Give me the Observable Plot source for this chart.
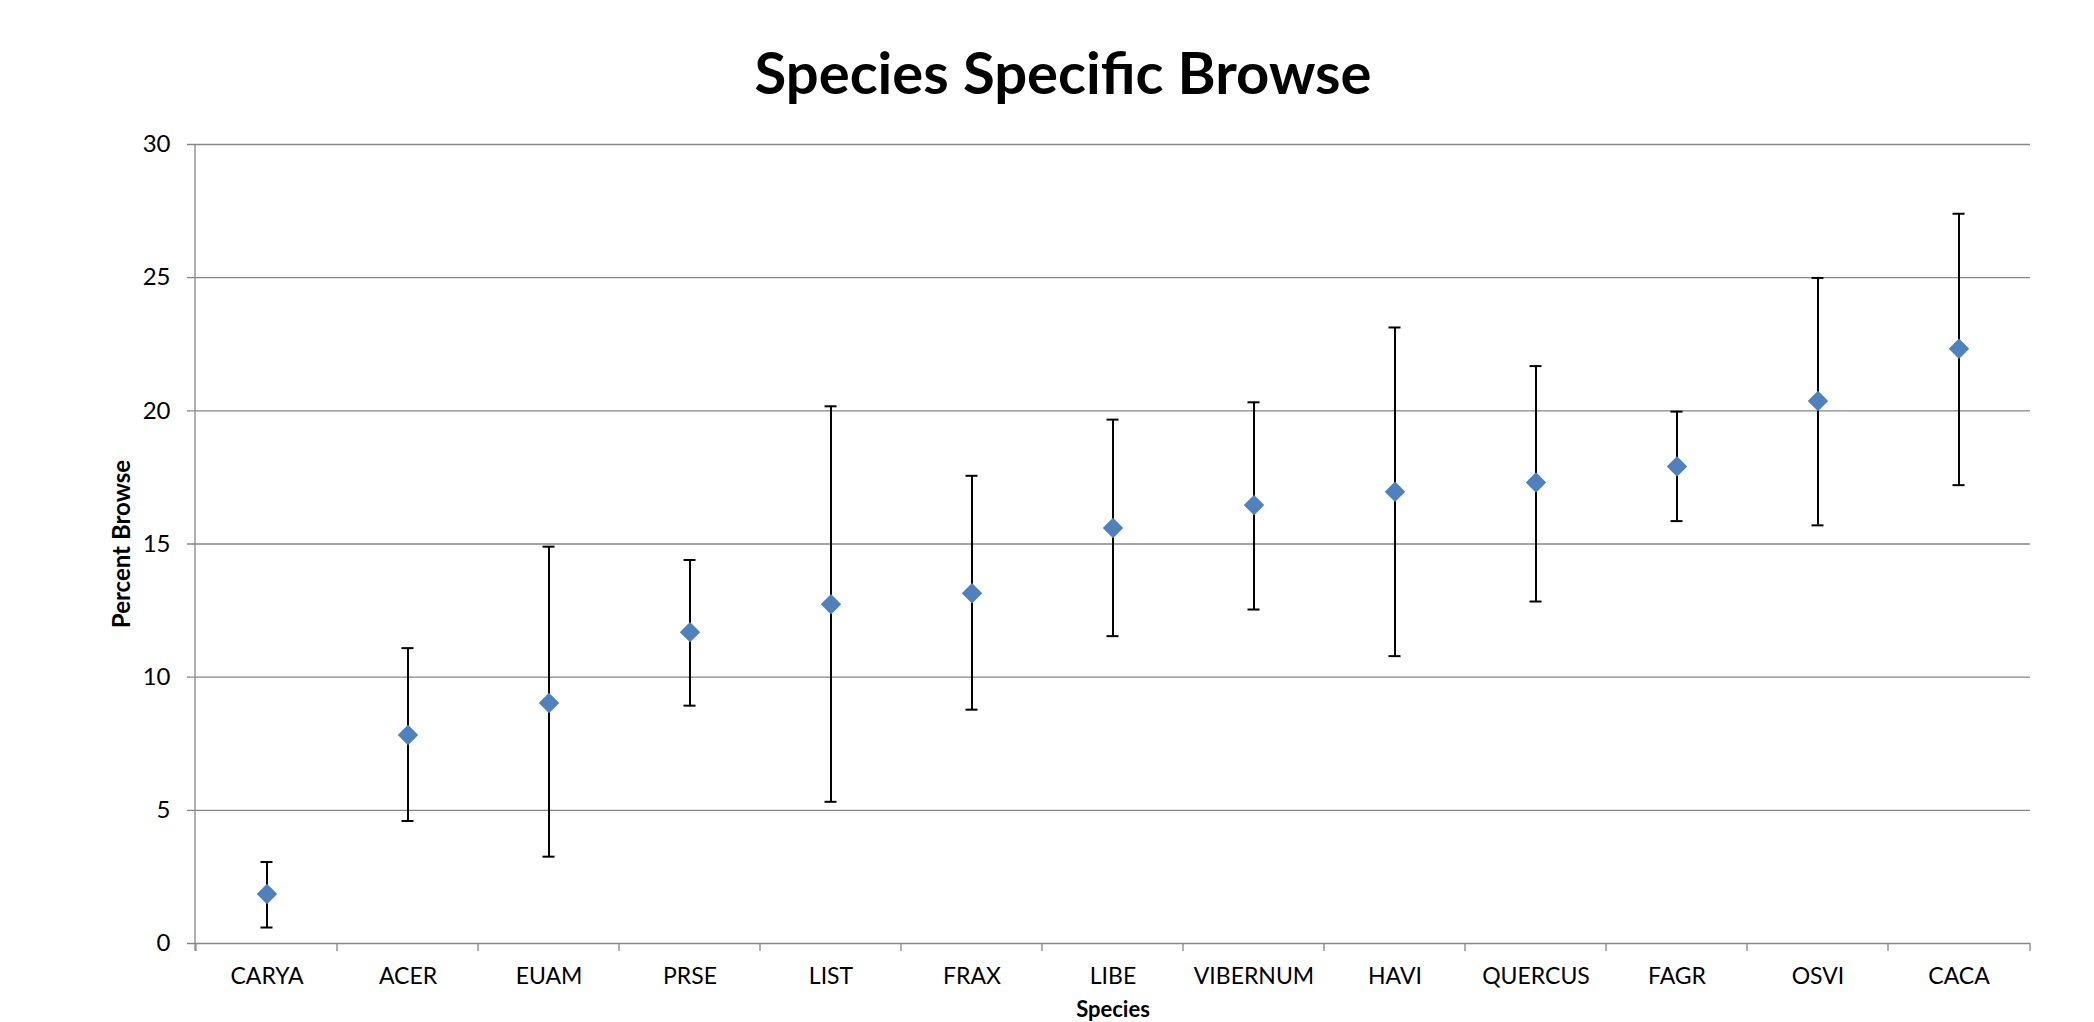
<!DOCTYPE html>
<html>
<head>
<meta charset="utf-8">
<script src="https://cdn.jsdelivr.net/npm/d3@7"></script>
<script src="https://cdn.jsdelivr.net/npm/@observablehq/plot@0.6"></script>
<style>
  html, body { margin: 0; padding: 0; background: #fff; }
  #title { height: 110px; width: 2094px; text-align: center; font-family: Lato, "Noto Sans", sans-serif; font-weight: bold; font-size: 58px; line-height: 58px; box-sizing: border-box; padding-top: 43px; padding-left: 32px; color: #000; overflow: hidden; }
  #chart svg { display: block; }
</style>
</head>
<body>
<div id="title">Species Specific Browse</div>
<div id="chart"></div>
<script>
const species = ["CARYA","ACER","EUAM","PRSE","LIST","FRAX","LIBE","VIBERNUM","HAVI","QUERCUS","FAGR","OSVI","CACA"];
const meanBrowse = [1.86, 7.83, 9.03, 11.69, 12.74, 13.15, 15.60, 16.46, 16.96, 17.31, 17.91, 20.37, 22.33];
const upperBrowse = [3.06, 11.09, 14.90, 14.40, 20.17, 17.56, 19.67, 20.32, 23.13, 21.68, 19.97, 24.99, 27.40];
const lowerBrowse = [0.60, 4.60, 3.26, 8.93, 5.32, 8.78, 11.54, 12.54, 10.79, 12.84, 15.86, 15.70, 17.21];
const yTicks = [0, 5, 10, 15, 20, 25, 30];
const yLabel = "Percent Browse";
const xLabel = "Species";

const data = species.map((s, i) => ({species: s, mean: meanBrowse[i], hi: upperBrowse[i], lo: lowerBrowse[i]}));

const GRID = "#868686";
const font = "Lato, 'Noto Sans', sans-serif";

function bandTicks(index, scales, values, dimensions) {
  const g = d3.create("svg:g");
  const y0 = scales.y(0);
  const top = dimensions.marginTop;
  const left = dimensions.marginLeft;
  const right = dimensions.width - dimensions.marginRight;
  const xs = species.map(s => scales.x(s)).concat([right]);
  g.append("line").attr("x1", left).attr("x2", left).attr("y1", top).attr("y2", y0 + 8)
    .attr("stroke", GRID).attr("stroke-width", 1.3);
  for (const x of xs) {
    g.append("line").attr("x1", x).attr("x2", x).attr("y1", y0).attr("y2", y0 + 8)
      .attr("stroke", GRID).attr("stroke-width", 1.3);
  }
  return g.node();
}

const chart = Plot.plot({
  width: 2094,
  height: 912,
  marginTop: 34,
  marginBottom: 79,
  marginLeft: 195,
  marginRight: 64,
  style: {fontFamily: font, background: "#fff"},
  x: {type: "band", domain: species, padding: 0, label: null},
  y: {domain: [0, 30], label: null},
  marks: [
    Plot.ruleY(yTicks, {y: d => d, stroke: GRID, strokeWidth: 1.3, insetLeft: -8}),
    bandTicks,
    Plot.axisY({ticks: yTicks, tickSize: 0, tickPadding: 25, fontSize: 24, fill: "#000", label: null, tickFormat: d => String(d)}),
    Plot.axisX({tickSize: 0, tickPadding: 24, fontSize: 23, fill: "#000", label: null}),
    Plot.ruleX(data, {x: "species", y1: "lo", y2: "hi", stroke: "#000", strokeWidth: 2}),
    Plot.tickY(data, {x: "species", y: "hi", stroke: "#000", strokeWidth: 2, insetLeft: 64.5, insetRight: 64.5}),
    Plot.tickY(data, {x: "species", y: "lo", stroke: "#000", strokeWidth: 2, insetLeft: 64.5, insetRight: 64.5}),
    Plot.dot(data, {x: "species", y: "mean", symbol: "diamond2", r: 9.2, fill: "#4F81BD", stroke: "none"}),
    Plot.text([yLabel], {frameAnchor: "left", text: d => d, rotate: -90, dx: -73, fontSize: 24, fontWeight: "bold", fill: "#000", textAnchor: "middle", lineAnchor: "middle"}),
    Plot.text([xLabel], {frameAnchor: "bottom", text: d => d, dy: 66, fontSize: 22, fontWeight: "bold", fill: "#000", textAnchor: "middle", lineAnchor: "middle"})
  ]
});
document.getElementById("chart").appendChild(chart);
</script>
</body>
</html>
